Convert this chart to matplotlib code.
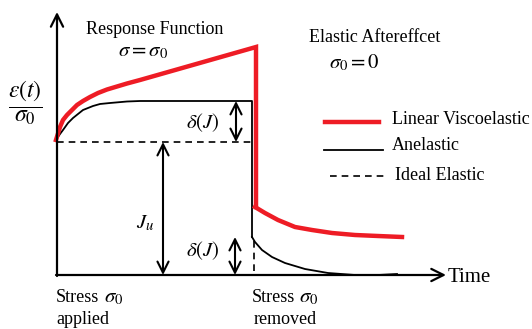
import matplotlib.pyplot as plt

plt.rcParams["mathtext.fontset"] = "stix"
plt.rcParams["font.family"] = ["Liberation Serif", "DejaVu Serif"]

# curve points (pixel units, y grows downward)
red_load_x = [56, 60, 63, 67, 72, 77, 83, 90, 98, 107, 117, 127, 140, 256, 256]
red_load_y = [140, 127, 120, 115, 110, 105, 101, 97, 93, 89.5, 86.5, 83.5, 80, 47, 207]
red_unload_x = [255, 265, 278, 295, 312, 332, 355, 378, 402]
red_unload_y = [207, 213, 220, 227, 230, 233, 235, 236, 237]

black_load_x = [56, 60, 63, 68, 73, 78, 83, 88, 93, 100, 110, 127, 140, 252, 252]
black_load_y = [140, 134, 130, 123, 118, 114, 110, 108, 106, 104, 103, 101.5, 101, 101, 237]
black_unload_x = [252, 255, 262, 272, 285, 305, 328, 355, 378, 397]
black_unload_y = [237, 242, 250, 257, 263, 269, 273, 275, 275, 274]

elastic_h_x = [57, 252]
elastic_h_y = [142, 142]
elastic_v_x = [254, 254]
elastic_v_y = [241, 274]

fig = plt.figure(figsize=(5.32, 3.29), dpi=100)
ax = fig.add_axes([0, 0, 1, 1])
ax.set_xlim(0, 532)
ax.set_ylim(329, 0)
ax.axis("off")

# axes with arrows
ax.annotate("", xy=(57, 12), xytext=(57, 276),
            arrowprops=dict(arrowstyle="->", lw=1.6, mutation_scale=22, shrinkA=0, shrinkB=0))
ax.annotate("", xy=(446, 275), xytext=(56, 275),
            arrowprops=dict(arrowstyle="->", lw=1.6, mutation_scale=22, shrinkA=0, shrinkB=0))

ax.plot(elastic_h_x, elastic_h_y, color="black", ls=(0, (4, 3)), lw=1.2)
ax.plot(elastic_v_x, elastic_v_y, color="black", ls=(0, (4, 3)), lw=1.2)
ax.plot(black_load_x, black_load_y, color="black", lw=1.3)
ax.plot(black_unload_x, black_unload_y, color="black", lw=1.3)
ax.plot(red_load_x, red_load_y, color="#ee1c25", lw=3.2, solid_joinstyle="miter")
ax.plot(red_unload_x, red_unload_y, color="#ee1c25", lw=3.2)

# double arrows
def dbl(x, y0, y1):
    ax.annotate("", xy=(x, y0), xytext=(x, y1),
                arrowprops=dict(arrowstyle="<->", lw=1.5, mutation_scale=20, shrinkA=0, shrinkB=0))

dbl(236, 101, 142)
dbl(235, 237, 275)
dbl(163, 142, 275)

fs = 13
ms = 15
ax.text(155, 30, "Response Function", fontsize=fs, ha="center", va="center")
ax.text(143, 52, r"$\sigma = \sigma_0$", fontsize=ms, ha="center", va="center")
ax.text(375, 38, "Elastic Aftereffcet", fontsize=fs, ha="center", va="center")
ax.text(354, 63, r"$\sigma_0 = 0$", fontsize=ms, ha="center", va="center")
ax.text(25, 103, r"$\dfrac{\varepsilon(t)}{\sigma_0}$", fontsize=17, ha="center", va="center")
ax.text(203, 123, r"$\delta(J)$", fontsize=ms, ha="center", va="center")
ax.text(203, 251, r"$\delta(J)$", fontsize=ms, ha="center", va="center")
ax.text(145, 223, r"$J_u$", fontsize=ms, ha="center", va="center")
ax.text(448, 277, "Time", fontsize=fs + 2, ha="left", va="center")

ax.text(56, 298, "Stress", fontsize=fs, ha="left", va="center")
ax.text(104, 298, r"$\sigma_0$", fontsize=ms, ha="left", va="center")
ax.text(56, 320, "applied", fontsize=fs, ha="left", va="center")
ax.text(252, 298, "Stress", fontsize=fs, ha="left", va="center")
ax.text(299, 298, r"$\sigma_0$", fontsize=ms, ha="left", va="center")
ax.text(254, 320, "removed", fontsize=fs, ha="left", va="center")

# legend drawn by hand
ax.plot([325, 379], [122, 122], color="#ee1c25", lw=3.2)
ax.text(392, 120, "Linear Viscoelastic", fontsize=fs, ha="left", va="center")
ax.plot([324, 383], [150, 150], color="black", lw=1.3)
ax.text(392, 146, "Anelastic", fontsize=fs, ha="left", va="center")
ax.plot([330, 385], [176, 176], color="black", ls=(0, (4, 3)), lw=1.2)
ax.text(395, 176, "Ideal Elastic", fontsize=fs, ha="left", va="center")

fig.savefig("out.png", dpi=100)
